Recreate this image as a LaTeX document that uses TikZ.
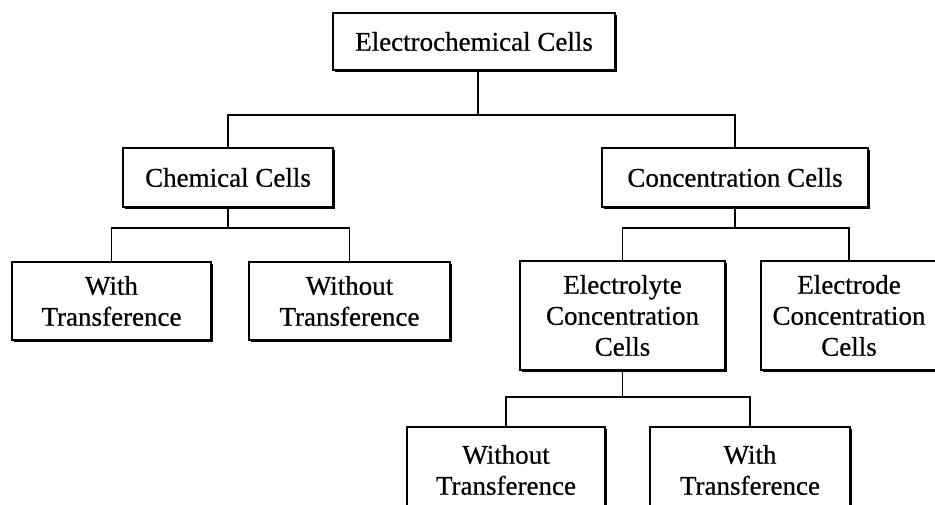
\documentclass[tikz,border=0pt]{standalone}
\usepackage{fontspec}
\setmainfont{Liberation Serif}
\newfontfamily\cellfont[FakeBold=0.6]{Liberation Serif}
\usetikzlibrary{shadows}
\begin{document}
\begin{tikzpicture}[x=1pt,y=-1pt,
  cell/.style={draw=black, fill=white, line width=1.8pt, inner sep=0pt,
    align=center, font=\cellfont\fontsize{27}{31}\selectfont,
    drop shadow={shadow xshift=1.6pt, shadow yshift=-1.6pt, opacity=1, fill=black}},
  link/.style={draw=black, line width=1.8pt}]
\useasboundingbox (0,0) rectangle (935,505);
\clip (0,0) rectangle (935,505);

% root
\node[cell, minimum width=282pt, minimum height=57pt] (ec) at (474,41.5) {Electrochemical Cells};

% first level
\node[cell, minimum width=210pt, minimum height=59pt] (chem) at (228,177.5) {Chemical Cells};
\node[cell, minimum width=266pt, minimum height=59pt] (conc) at (735,177.5) {Concentration Cells};

% second level
\node[cell, minimum width=199pt, minimum height=78pt] (wt1) at (111.5,301) {With\\Transference};
\node[cell, minimum width=201pt, minimum height=78pt] (wo1) at (349.5,301) {Without\\Transference};
\node[cell, minimum width=205pt, minimum height=109pt] (elyte) at (622.5,315.5) {Electrolyte\\Concentration\\Cells};
\node[cell, minimum width=176pt, minimum height=109pt] (elode) at (849,315.5) {Electrode\\Concentration\\Cells};

% third level
\node[cell, minimum width=198pt, minimum height=86pt] (wo2) at (506,470) {Without\\Transference};
\node[cell, minimum width=200pt, minimum height=86pt] (wt2) at (750,470) {With\\Transference};

% connectors
\coordinate (j0) at (478,115);
\draw[link] (ec.south -| j0) -- (j0);
\draw[link] (chem.north) |- (j0) -| (conc.north);

\draw[link] (chem.south) -- ++(0,20) coordinate (j1);
\draw[link] (wt1.north) |- (j1) -| (wo1.north);

\draw[link] (conc.south) -- ++(0,20) coordinate (j2);
\draw[link] (elyte.north) |- (j2) -| (elode.north);

\draw[link] (elyte.south) -- ++(0,26) coordinate (j3);
\draw[link] (wo2.north) |- (j3) -| (wt2.north);
\end{tikzpicture}
\end{document}
